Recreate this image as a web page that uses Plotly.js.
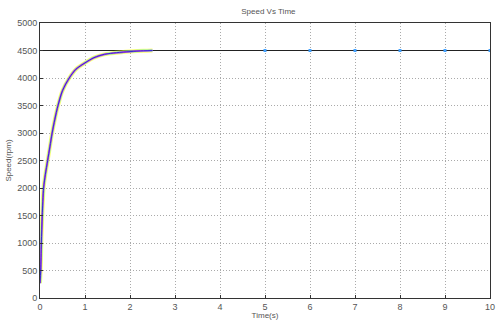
<!DOCTYPE html>
<html>
<head>
<meta charset="utf-8">
<script src="https://cdn.plot.ly/plotly-3.0.1.min.js"></script>
<style>html,body{margin:0;padding:0;background:#fff;}#chart{width:497px;height:320px;}</style>
</head>
<body>
<div id="chart"></div>
<script>
// Speed response (time in s, speed in rpm)
var timeS    = [0, 0.015, 0.03, 0.05, 0.08, 0.12, 0.17, 0.22, 0.27, 0.33, 0.4, 0.5, 0.65, 0.8, 1.0, 1.2, 1.43, 1.7, 2.0, 2.3, 2.5];
var speedRpm = [270, 500, 1000, 1500, 2000, 2250, 2500, 2750, 3000, 3250, 3500, 3770, 4000, 4160, 4275, 4370, 4430, 4460, 4480, 4495, 4500];
// Reference speed
var refTime  = [0, 10];
var refSpeed = [4500, 4500];
// Markers on the reference line at the later grid points
var markTime  = [5, 6, 7, 8, 9, 10];
var markSpeed = [4500, 4500, 4500, 4500, 4500, 4500];
var xTicks = [0,1,2,3,4,5,6,7,8,9,10];
var yTicks = [0,500,1000,1500,2000,2500,3000,3500,4000,4500,5000];

var traces = [
  {x: refTime, y: refSpeed, mode: 'lines', line: {color: '#222', width: 1}, hoverinfo: 'skip'},
  {x: timeS, y: speedRpm, mode: 'lines', line: {color: 'rgba(255,255,0,0.55)', width: 4, shape: 'spline', smoothing: 0.8}},
  {x: timeS, y: speedRpm, mode: 'lines', line: {color: 'rgba(0,220,255,0.5)', width: 2.5, shape: 'spline', smoothing: 0.8}},
  {x: timeS, y: speedRpm, mode: 'lines', line: {color: '#e030e0', width: 1.6, shape: 'spline', smoothing: 0.8}},
  {x: timeS, y: speedRpm, mode: 'lines', line: {color: '#3030d0', width: 1, shape: 'spline', smoothing: 0.8}},
  {x: markTime, y: markSpeed, mode: 'markers', marker: {color: '#40a0ff', size: 3, symbol: 'square'}}
];

var axisCommon = {
  showline: true, mirror: true, linecolor: '#333', linewidth: 1,
  ticks: 'inside', ticklen: 3, tickcolor: '#333',
  showgrid: true, gridcolor: '#aaa', griddash: '1px,2px', gridwidth: 1,
  zeroline: false, ticklabeloverflow: 'allow',
  tickfont: {family: 'Liberation Sans, Arial, sans-serif', size: 9, color: '#555'}
};

var layout = {
  width: 497, height: 320,
  margin: {l: 40, r: 7, t: 23, b: 22},
  paper_bgcolor: '#fff', plot_bgcolor: '#fff',
  showlegend: false,
  title: {text: 'Speed Vs Time', x: 0.54, xanchor: 'center', y: 0.975, yanchor: 'top',
          font: {family: 'Liberation Sans, Arial, sans-serif', size: 8, color: '#555'}},
  xaxis: Object.assign({}, axisCommon, {
    range: [0, 10], tickvals: xTicks, ticktext: xTicks.map(String),
    title: {text: 'Time(s)', standoff: 2, font: {family: 'Liberation Sans, Arial, sans-serif', size: 8, color: '#555'}}
  }),
  yaxis: Object.assign({}, axisCommon, {
    range: [0, 5000], tickvals: yTicks, ticktext: yTicks.map(String),
    title: {text: 'Speed(rpm)', standoff: 4, font: {family: 'Liberation Sans, Arial, sans-serif', size: 8, color: '#555'}}
  })
};

Plotly.newPlot('chart', traces, layout, {displayModeBar: false, staticPlot: true});
</script>
</body>
</html>
